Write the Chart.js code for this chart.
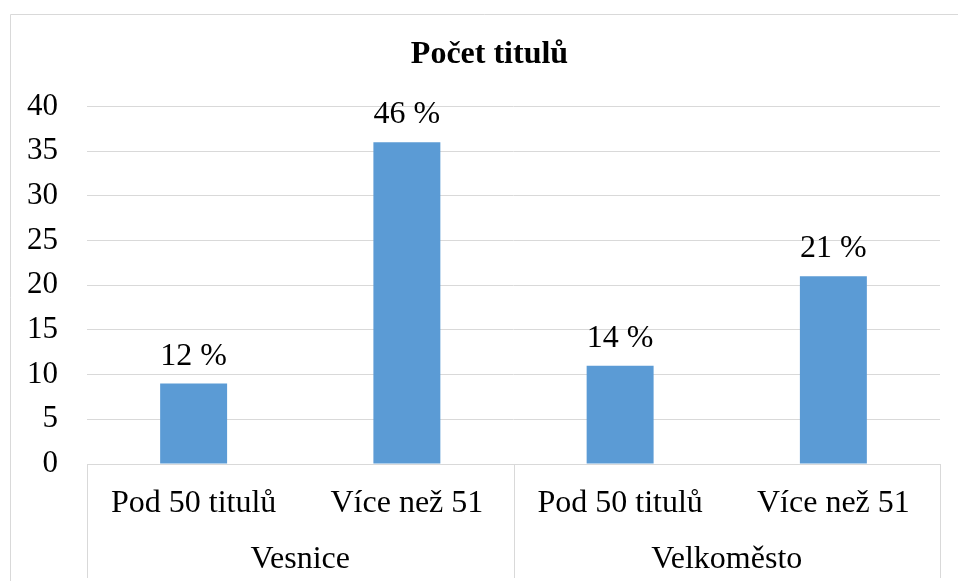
<!DOCTYPE html>
<html>
<head>
<meta charset="utf-8">
<script src="https://cdn.jsdelivr.net/npm/chart.js@4/dist/chart.umd.min.js"></script>
<style>
  body { margin: 0; background: #fff; }
  canvas { display: block; }
</style>
</head>
<body>
<canvas id="myChart" width="958" height="581"></canvas>
<script>
var categories = ['Pod 50 titulů', 'Více než 51', 'Pod 50 titulů', 'Více než 51'];
var groups = ['Vesnice', 'Velkoměsto'];
var counts = [9, 36, 11, 21];
var percentLabels = ['12 %', '46 %', '14 %', '21 %'];

var serif = "'Liberation Serif', 'Times New Roman', serif";
var gridColor = '#d9d9d9';

// frame, group separators and labels above the bars
var extras = {
  id: 'extras',
  beforeDraw: function(chart) {
    var c = chart.ctx;
    c.save();
    c.strokeStyle = gridColor;
    c.lineWidth = 1;
    c.beginPath();
    c.moveTo(10.5, 581);
    c.lineTo(10.5, 14.5);
    c.lineTo(958, 14.5);
    c.stroke();
    c.restore();
  },
  afterDraw: function(chart) {
    var c = chart.ctx;
    var area = chart.chartArea;
    var x = chart.scales.x;
    var mid = (x.getPixelForValue(1) + x.getPixelForValue(2)) / 2;
    c.save();
    c.strokeStyle = gridColor;
    c.lineWidth = 1;
    [area.left, mid, area.right].forEach(function(px) {
      px = Math.round(px) + 0.5;
      c.beginPath();
      c.moveTo(px, area.bottom);
      c.lineTo(px, 578);
      c.stroke();
    });
    c.fillStyle = '#000';
    c.font = '32px ' + serif;
    c.textAlign = 'center';
    c.textBaseline = 'alphabetic';
    var meta = chart.getDatasetMeta(0);
    meta.data.forEach(function(bar, i) {
      c.fillText(percentLabels[i], bar.x, bar.y - 19);
    });
    c.restore();
  }
};

var ctx = document.getElementById('myChart').getContext('2d');
var chart = new Chart(ctx, {
  type: 'bar',
  data: {
    labels: categories,
    datasets: [{
      label: 'Počet titulů',
      data: counts,
      backgroundColor: '#5b9bd5',
      borderWidth: 0,
      categoryPercentage: 1,
      barPercentage: 0.314
    }]
  },
  options: {
    responsive: false,
    animation: false,
    layout: {
      padding: { left: 21, right: 0, top: 0, bottom: 6 }
    },
    plugins: {
      legend: { display: false },
      tooltip: { enabled: false },
      title: {
        display: true,
        text: 'Počet titulů',
        color: '#000',
        font: { family: serif, size: 32, weight: 'bold', lineHeight: 1.2 },
        padding: { top: 36, bottom: 32 }
      }
    },
    scales: {
      y: {
        min: 0,
        max: 40,
        ticks: {
          stepSize: 5,
          autoSkip: false,
          color: '#000',
          padding: 29,
          font: { family: serif, size: 31, lineHeight: 1.2 }
        },
        grid: { color: gridColor, drawTicks: false },
        border: { display: false },
        afterFit: function(scale) { scale.width = 66; }
      },
      // empty axis that only keeps the right margin
      yRight: {
        position: 'right',
        ticks: { display: false },
        grid: { display: false },
        border: { display: false },
        afterFit: function(scale) { scale.width = 18; }
      },
      x: {
        ticks: {
          color: '#000',
          padding: 12,
          maxRotation: 0,
          autoSkip: false,
          font: { family: serif, size: 32, lineHeight: 1.2 }
        },
        grid: { display: false },
        border: { display: true, color: gridColor, width: 1 },
        afterFit: function(scale) { scale.height = 55; }
      },
      x2: {
        type: 'category',
        position: 'bottom',
        labels: groups,
        offset: true,
        ticks: {
          color: '#000',
          padding: 13,
          maxRotation: 0,
          font: { family: serif, size: 32, lineHeight: 1.2 }
        },
        grid: { display: false },
        border: { display: false },
        afterFit: function(scale) { scale.height = 56; }
      }
    }
  },
  plugins: [extras]
});
</script>
</body>
</html>
